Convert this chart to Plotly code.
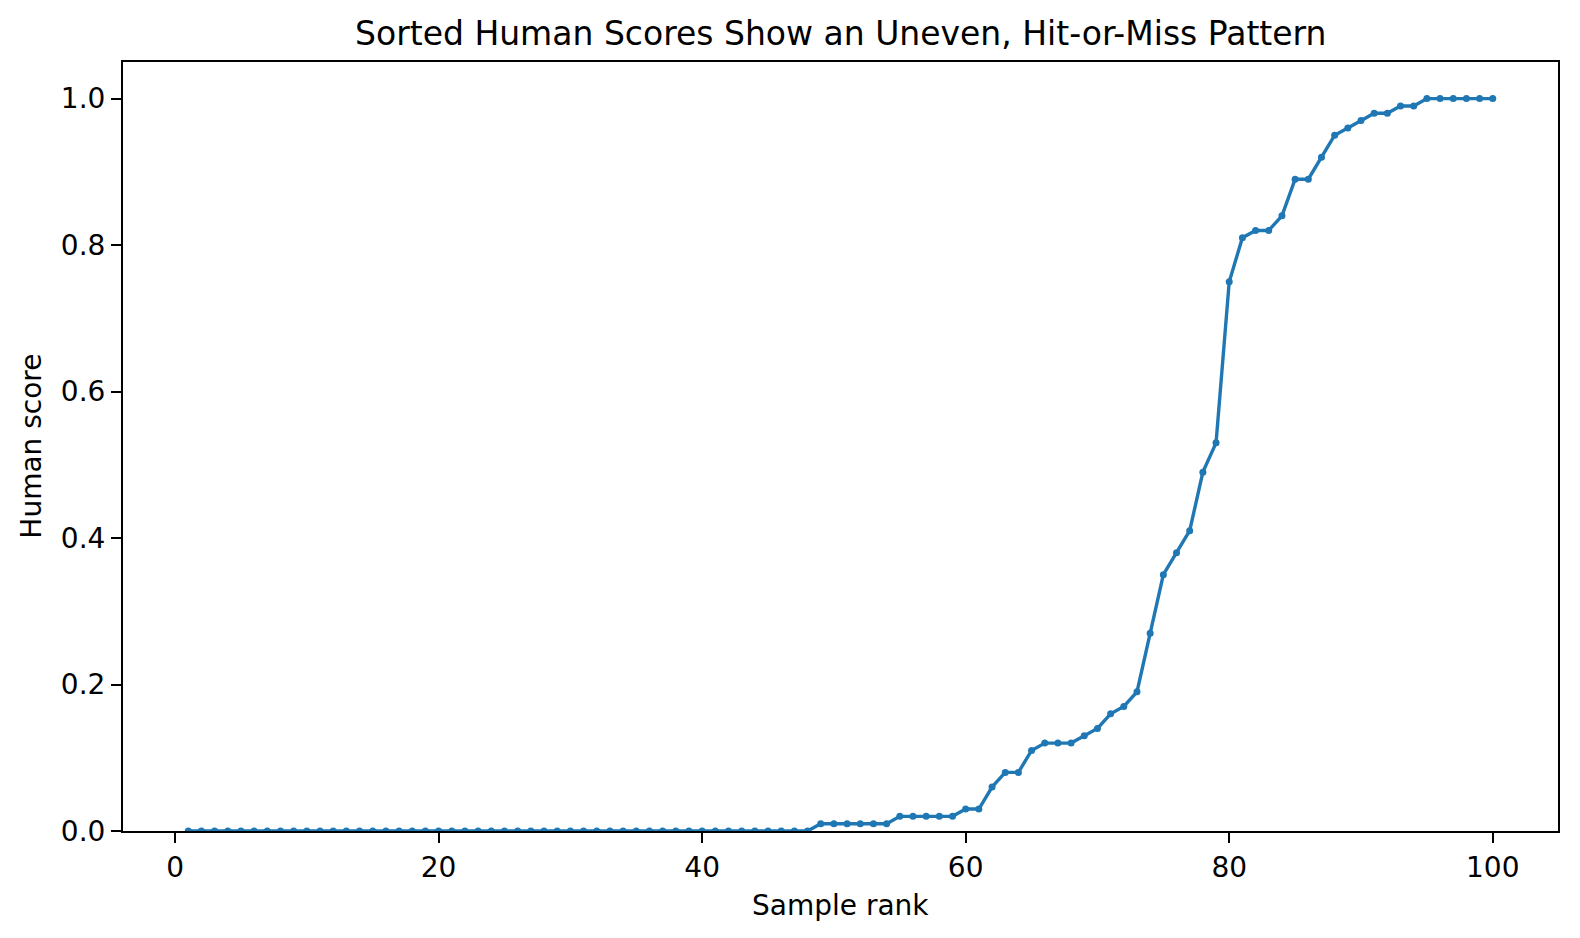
import plotly.graph_objects as go

# ---- data ----
ranks = list(range(1, 101))
scores = [
    0.0, 0.0, 0.0, 0.0, 0.0, 0.0, 0.0, 0.0, 0.0, 0.0,
    0.0, 0.0, 0.0, 0.0, 0.0, 0.0, 0.0, 0.0, 0.0, 0.0,
    0.0, 0.0, 0.0, 0.0, 0.0, 0.0, 0.0, 0.0, 0.0, 0.0,
    0.0, 0.0, 0.0, 0.0, 0.0, 0.0, 0.0, 0.0, 0.0, 0.0,
    0.0, 0.0, 0.0, 0.0, 0.0, 0.0, 0.0, 0.0, 0.01, 0.01,
    0.01, 0.01, 0.01, 0.01, 0.02, 0.02, 0.02, 0.02, 0.02, 0.03,
    0.03, 0.06, 0.08, 0.08, 0.11, 0.12, 0.12, 0.12, 0.13, 0.14,
    0.16, 0.17, 0.19, 0.27, 0.35, 0.38, 0.41, 0.49, 0.53, 0.75,
    0.81, 0.82, 0.82, 0.84, 0.89, 0.89, 0.92, 0.95, 0.96, 0.97,
    0.98, 0.98, 0.99, 0.99, 1.0, 1.0, 1.0, 1.0, 1.0, 1.0,
]
x_ticks = [0, 20, 40, 60, 80, 100]
y_ticks = [0.0, 0.2, 0.4, 0.6, 0.8, 1.0]
title_text = "Sorted Human Scores Show an Uneven, Hit-or-Miss Pattern"
x_label = "Sample rank"
y_label = "Human score"

FONT = "DejaVu Sans"
BLUE = "#1f77b4"

fig = go.Figure()
fig.add_trace(go.Scatter(
    x=ranks, y=scores, mode="lines+markers",
    line=dict(color=BLUE, width=3.4),
    marker=dict(color=BLUE, size=7),
    cliponaxis=True, showlegend=False, hoverinfo="skip",
))

axis_common = dict(
    showline=True, linecolor="black", linewidth=2, mirror=True,
    ticks="outside", ticklen=10, tickwidth=2, tickcolor="black",
    showgrid=False, zeroline=False, automargin=False,
    tickfont=dict(family=FONT, size=28, color="black"),
)

fig.update_layout(
    width=1580, height=938,
    margin=dict(l=123, r=22, t=62, b=107),
    paper_bgcolor="white", plot_bgcolor="white",
    font=dict(family=FONT, color="black"),
    xaxis=dict(range=[-3.95, 104.95], tickvals=x_ticks,
               ticktext=[str(v) for v in x_ticks], **axis_common),
    yaxis=dict(range=[0, 1.05], tickvals=y_ticks,
               ticktext=[f"{v:.1f}" for v in y_ticks], **axis_common),
    annotations=[
        dict(text=title_text, xref="paper", yref="paper", x=0.5, y=1.037,
             xanchor="center", yanchor="middle", showarrow=False,
             font=dict(family=FONT, size=33, color="black")),
        dict(text=x_label, xref="paper", yref="paper", x=0.5, y=-0.0964,
             xanchor="center", yanchor="middle", showarrow=False,
             font=dict(family=FONT, size=28, color="black")),
        dict(text=y_label, xref="paper", yref="paper", x=-0.064, y=0.5,
             xanchor="center", yanchor="middle", textangle=-90, showarrow=False,
             font=dict(family=FONT, size=28, color="black")),
    ],
)

fig.write_html(
    "out.html",
    config={"displayModeBar": False},
    post_script=(
        "document.body.style.margin='0px';"
        "document.body.style.overflow='hidden';"
        "document.documentElement.style.overflow='hidden';"
    ),
)
